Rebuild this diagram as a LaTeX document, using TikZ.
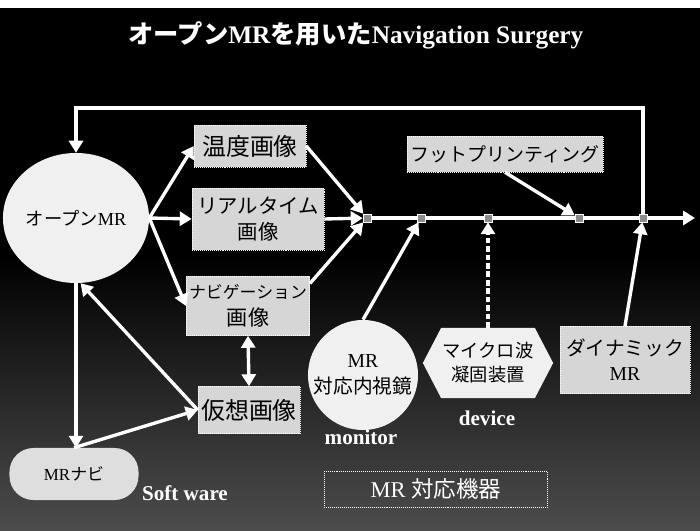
\documentclass[tikz,border=0pt]{standalone}
\usepackage{fontspec}
\setmainfont{Liberation Serif}
\newfontfamily\jpfont{Noto Sans CJK JP}
\usepackage{xcolor}
\definecolor{boxgray}{HTML}{D6D6D6}
\definecolor{ballwhite}{HTML}{F0F0F0}
\definecolor{knotgray}{HTML}{8C8C8C}
\usepackage{tikz}
\usetikzlibrary{arrows.meta, positioning, shapes.geometric, shapes.symbols}

\tikzset{
  imgbox/.style={draw=white, densely dotted, fill=boxgray, text=black, align=center, inner sep=2pt},
  ball/.style={fill=ballwhite, text=black, align=center, inner sep=1pt},
  knot/.style={draw=white, fill=knotgray, minimum size=0.2cm, inner sep=0pt},
  flow/.style={white, line width=2.4pt, -{Triangle[width=10pt,length=8.5pt]}},
  link/.style={white, line width=2.4pt},
  tag/.style={text=white, font=\bfseries\fontsize{15}{17}\selectfont},
}

\begin{document}
\begin{tikzpicture}[x=0.025cm, y=-0.025cm]
  % Background
  \useasboundingbox (0,0) rectangle (700,531);
  \fill[white] (0,0) rectangle (700,531);
  \fill[black] (0,8) rectangle (700,531);
  \shade[top color=black, bottom color=black!70!white] (0,255) rectangle (700,531);

  % Title
  \node[text=white, font=\bfseries\fontsize{18}{20}\selectfont] (title) at (356,35)
    {{\jpfont オープン}MR{\jpfont を用いた}Navigation Surgery};

  % Open MR
  \node[ball, ellipse, minimum width=2.875cm, minimum height=3.25cm,
        font=\fontsize{13}{15}\selectfont] (openmr) at (76,218) {{\jpfont オープン}MR};

  % Image boxes
  \node[imgbox, minimum width=2.8cm, minimum height=1.05cm,
        font=\jpfont\fontsize{17}{19}\selectfont] (temp) at (250,146) {温度画像};
  \node[imgbox, minimum width=3.3cm, minimum height=1.55cm,
        font=\jpfont\fontsize{14.5}{19}\selectfont] (realtime) at (258,219) {リアルタイム\\画像};
  \node[imgbox, minimum width=2.925cm, minimum height=1.475cm,
        font=\jpfont\fontsize{15}{19}\selectfont] (navi) at (248,306)
        {{\fontsize{12}{14}\selectfont ナビゲーション}\\画像};
  \node[imgbox, minimum width=2.55cm, minimum height=1.175cm,
        font=\jpfont\fontsize{17}{19}\selectfont] (virt) at (249,410) {仮想画像};
  \node[imgbox, minimum width=4.9cm, minimum height=0.9cm,
        font=\jpfont\fontsize{13.5}{15}\selectfont] (foot) at (505,154) {フットプリンティング};
  \node[imgbox, minimum width=3.25cm, minimum height=1.675cm,
        font=\fontsize{14}{18}\selectfont] (dyn) at (625,360) {{\jpfont ダイナミック}\\MR};

  % MR navi
  \node[ball, fill=boxgray!80!white, rounded corners=0.6cm, minimum width=3.225cm,
        minimum height=1.3cm, font=\fontsize{12}{14}\selectfont] (mrnav) at (74,474) {MR{\jpfont ナビ}};

  % MR devices
  \node[ball, circle, minimum size=2.75cm, font=\fontsize{14}{18}\selectfont]
    (scope) at (363,375) {MR\\{\jpfont 対応内視鏡}};
  \node[ball, signal, signal to=west and east, signal pointer angle=125,
        minimum width=3.125cm, minimum height=1.75cm, font=\jpfont\fontsize{13}{17}\selectfont]
    (wave) at (488,363) {マイクロ波\\凝固装置};

  % Labels
  \node[tag] (soft) at (185,493) {Soft ware};
  \node[tag] (monitor) at (361,437) {monitor};
  \node[tag] (device) at (487,418) {device};
  \node[draw=white, densely dotted, text=white, minimum width=5.575cm, minimum height=0.9cm,
        font=\fontsize{16}{18}\selectfont] (devcap) at (436,489) {MR {\jpfont 対応機器}};

  % Junctions on the main line
  \node[knot] (j1) at (367,218) {};
  \node[knot] (j2) at (421,218) {};
  \node[knot] (j3) at (488,218) {};
  \node[knot] (j4) at (579,218) {};
  \node[knot] (j5) at (643,218) {};
  \coordinate (out) at (695,218);
  \coordinate (top) at (360,108);

  % Main line and feedback
  \draw[link] (j1) -- (j2);
  \draw[link] (j2) -- (j3);
  \draw[link] (j3) -- (j4);
  \draw[link] (j4) -- (j5);
  \draw[flow] (j5) -- (out);
  \draw[flow] (j5.north) |- (top) -| (openmr.north);

  % Open MR to images
  \draw[flow] (openmr.east) -- (temp.west);
  \draw[flow] (openmr.east) -- (realtime.west);
  \draw[flow] (openmr.east) -- (navi.west);
  \draw[flow] (openmr.south) -- (openmr.south |- mrnav.north);
  \draw[flow] (mrnav.north) -- (virt.west);
  \draw[flow] (virt.west) -- (openmr.-86);
  \draw[white, line width=2.4pt, {Triangle[width=10pt,length=8.5pt]}-{Triangle[width=10pt,length=8.5pt]}]
    (navi.south) -- (virt.north);

  % Images to the line
  \draw[flow] (temp.east) -- (j1);
  \draw[flow] (realtime.east) -- (j1);
  \draw[flow] (navi.20) -- (j1);
  \draw[flow] (scope.north) -- (j2);
  \draw[flow, dash pattern=on 4pt off 2pt] (wave.north) -- (j3);
  \draw[flow] (foot.south) -- (j4);
  \draw[flow] (dyn.north) -- (j5);
\end{tikzpicture}
\end{document}
